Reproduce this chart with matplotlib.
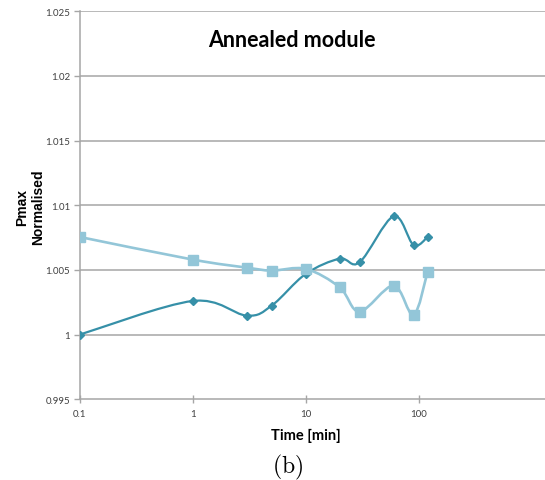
import numpy as np
import matplotlib
matplotlib.use("Agg")
import matplotlib.pyplot as plt
from matplotlib.path import Path
from matplotlib.patches import PathPatch
from matplotlib.ticker import FixedLocator, NullLocator

# data
time_min = [0.1, 1, 3, 5, 10, 20, 30, 60, 90, 120]
pmax_dark = [1.0, 1.0026, 1.00147, 1.00224, 1.00469, 1.00587, 1.00559, 1.00915, 1.00693, 1.00755]
pmax_light = [1.00755, 1.0058, 1.00518, 1.00495, 1.00508, 1.00366, 1.00178, 1.00379, 1.00152, 1.00487]

x_ticks = [0.1, 1, 10, 100]
x_tick_labels = ["0.1", "1", "10", "100"]
y_ticks = [0.995, 1.0, 1.005, 1.01, 1.015, 1.02, 1.025]
y_tick_labels = ["0.995", "1", "1.005", "1.01", "1.015", "1.02", "1.025"]

DARK = "#3690a8"
LIGHT = "#93c6d8"
GRID = "#a6a6a6"


def smooth_path(xs, ys):
    # excel style smoothed line, bezier segments in log-x space
    u = np.log10(np.array(xs, dtype=float))
    v = np.array(ys, dtype=float)
    n = len(u)
    verts = [(xs[0], ys[0])]
    codes = [Path.MOVETO]
    for i in range(n - 1):
        i0 = max(i - 1, 0)
        i3 = min(i + 2, n - 1)
        c1 = (u[i] + (u[i + 1] - u[i0]) / 6.0, v[i] + (v[i + 1] - v[i0]) / 6.0)
        c2 = (u[i + 1] - (u[i3] - u[i]) / 6.0, v[i + 1] - (v[i3] - v[i]) / 6.0)
        verts += [(10 ** c1[0], c1[1]), (10 ** c2[0], c2[1]), (xs[i + 1], ys[i + 1])]
        codes += [Path.CURVE4] * 3
    return Path(verts, codes)


fig = plt.figure(figsize=(5.45, 4.81), dpi=100)
ax = fig.add_axes([0.1462, 0.1678, 1.0 - 0.1462, 0.9746 - 0.1678])

ax.set_xscale("log")
ax.set_xlim(0.1, 1312)
ax.set_ylim(0.995, 1.025)

for y in y_ticks[1:]:
    ax.axhline(y, color=GRID, lw=1.1, zorder=1)

ax.add_patch(PathPatch(smooth_path(time_min, pmax_dark), fill=False,
                       edgecolor=DARK, lw=1.6, zorder=3))
ax.plot(time_min, pmax_dark, linestyle="none", marker="D", markersize=4.5,
        color=DARK, zorder=4)
ax.add_patch(PathPatch(smooth_path(time_min, pmax_light), fill=False,
                       edgecolor=LIGHT, lw=1.9, zorder=5))
ax.plot(time_min, pmax_light, linestyle="none", marker="s", markersize=6.5,
        color=LIGHT, zorder=6)

for s in ["top", "right"]:
    ax.spines[s].set_visible(False)
ax.spines["left"].set_color(GRID)
ax.spines["bottom"].set_color(GRID)
ax.spines["left"].set_linewidth(1.1)
ax.spines["bottom"].set_linewidth(1.1)

ax.xaxis.set_major_locator(FixedLocator(x_ticks))
ax.xaxis.set_minor_locator(NullLocator())
ax.set_xticklabels(x_tick_labels)
ax.set_yticks(y_ticks)
ax.set_yticklabels(y_tick_labels)
ax.tick_params(axis="y", direction="out", length=4, width=1, color=GRID,
               labelsize=7, labelcolor="#404040", pad=3)
ax.tick_params(axis="x", direction="inout", length=6, width=1, color=GRID,
               labelsize=7, labelcolor="#404040", pad=4)
for lab in ax.get_xticklabels() + ax.get_yticklabels():
    lab.set_family("Lato")

fig.text(291.5 / 545, 1 - 41 / 481, "Annealed module", ha="center", va="center",
         fontsize=15.5, fontweight="bold", family="Lato")
fig.text(306 / 545, 1 - 436 / 481, "Time [min]", ha="center", va="center",
         fontsize=10.5, fontweight="bold", family="Lato")
fig.text(30 / 545, 1 - 207 / 481, "Pmax\nNormalised", ha="center", va="center",
         rotation=90, fontsize=10, fontweight="bold", family="Liberation Sans",
         linespacing=1.15)

plt.rcParams["mathtext.fontset"] = "cm"
fig.text(288 / 545, 1 - 467 / 481, r"$\mathrm{(b)}$", ha="center", va="center",
         fontsize=17)

fig.savefig("out.png", dpi=100)
